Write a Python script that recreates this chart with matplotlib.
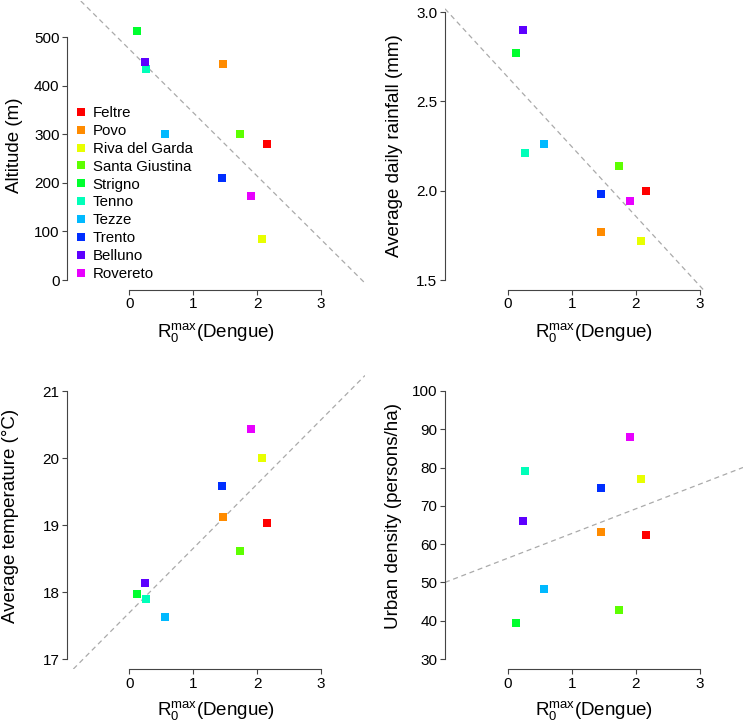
import numpy as np
import matplotlib
matplotlib.use("Agg")
import matplotlib.pyplot as plt

plt.rcParams['font.family'] = ['Liberation Sans', 'DejaVu Sans']
plt.rcParams['mathtext.fontset'] = 'custom'
plt.rcParams['mathtext.rm'] = 'Liberation Sans'
plt.rcParams['mathtext.it'] = 'Liberation Sans:italic'

# sites and their colours (R rainbow-like palette)
sites = ["Feltre", "Povo", "Riva del Garda", "Santa Giustina", "Strigno",
         "Tenno", "Tezze", "Trento", "Belluno", "Rovereto"]
colors = ["#FF0000", "#FF8B00", "#E8FF00", "#5DFF00", "#00FF2E",
          "#00FFB9", "#00B9FF", "#002EFF", "#5D00FF", "#E800FF"]

# R0max (Dengue) per site
r0max = [2.15, 1.46, 2.08, 1.74, 0.12, 0.26, 0.56, 1.45, 0.24, 1.91]

altitude = [281, 444, 85, 301, 512, 435, 301, 210, 450, 173]
rainfall = [2.00, 1.77, 1.72, 2.14, 2.77, 2.21, 2.26, 1.98, 2.90, 1.94]
temperature = [19.03, 19.12, 20.00, 18.61, 17.97, 17.90, 17.63, 19.58, 18.13, 20.43]
density = [62.4, 63.2, 77.1, 42.7, 39.3, 79.1, 48.2, 74.6, 66.1, 88.0]

xticks = [0, 1, 2, 3]

W, H = 746, 724
fig = plt.figure(figsize=(W / 100, H / 100), dpi=100)


def panel(l, t, r, b):
    return fig.add_axes([l / W, 1 - b / H, (r - l) / W, (b - t) / H])


panels = [
    # box, y values, label, yticks, ylim, xlim, ylabel x, xlabel y
    ((67, 1, 365, 290), altitude, "Altitude (m)", [0, 100, 200, 300, 400, 500],
     (-20.6, 574.8), (-0.975, 3.689), -0.176, -0.162),
    ((445, 1, 743, 290), rainfall, "Average daily rainfall (mm)", [1.5, 2.0, 2.5, 3.0],
     (1.444, 3.063), (-0.984, 3.672), -0.169, -0.162),
    ((67, 363, 365, 669), temperature, "Average temperature (\u00b0C)", [17, 18, 19, 20, 21],
     (16.851, 21.418), (-0.975, 3.689), -0.188, -0.151),
    ((445, 363, 743, 669), density, "Urban density (persons/ha)", [30, 40, 50, 60, 70, 80, 90, 100],
     (27.39, 107.31), (-0.984, 3.672), -0.174, -0.151),
]

axes = []
for box, yvals, ylabel, yticks, ylim, xlim, ylx, xly in panels:
    ax = panel(*box)
    axes.append(ax)
    # regression line
    slope, icpt = np.polyfit(r0max, yvals, 1)
    ax.axline((0, icpt), slope=slope, color="#AAAAAA", lw=0.9,
              dashes=(4, 3), zorder=1)
    for x, y, c, s in zip(r0max, yvals, colors, sites):
        ax.plot(x, y, ls="none", marker="s", ms=5.2, mew=0, color=c, label=s, zorder=3)
    ax.set_xlim(*xlim)
    ax.set_ylim(*ylim)
    ax.set_xticks(xticks)
    ax.set_yticks(yticks)
    if isinstance(yticks[0], float):
        ax.set_yticklabels([f"{v:.1f}" for v in yticks])
    for side in ["top", "right"]:
        ax.spines[side].set_visible(False)
    for side in ["left", "bottom"]:
        ax.spines[side].set_color("#444444")
        ax.spines[side].set_linewidth(0.8)
    ax.spines["left"].set_bounds(yticks[0], yticks[-1])
    ax.spines["bottom"].set_bounds(0, 3)
    ax.tick_params(length=3.6, width=0.8, color="#444444", labelsize=11, pad=1.8)
    ax.patch.set_alpha(0)
    ax.set_ylabel(ylabel, fontsize=13.5, va="center")
    ax.yaxis.set_label_coords(ylx, 0.5)
    ax.set_xlabel(r"R$_{\mathrm{0}}^{\mathrm{max}}$(Dengue)", fontsize=13.5, va="baseline")
    ax.xaxis.set_label_coords(0.5, xly)

axes[0].legend(loc="upper left", bbox_to_anchor=(74.7 / W, 1 - 106.0 / H),
               bbox_transform=fig.transFigure, frameon=False, fontsize=10.8,
               handlelength=0.8, handletextpad=0.4, labelspacing=0.26,
               borderpad=0, borderaxespad=0, markerscale=1.0)

fig.savefig("out.png", dpi=100)
